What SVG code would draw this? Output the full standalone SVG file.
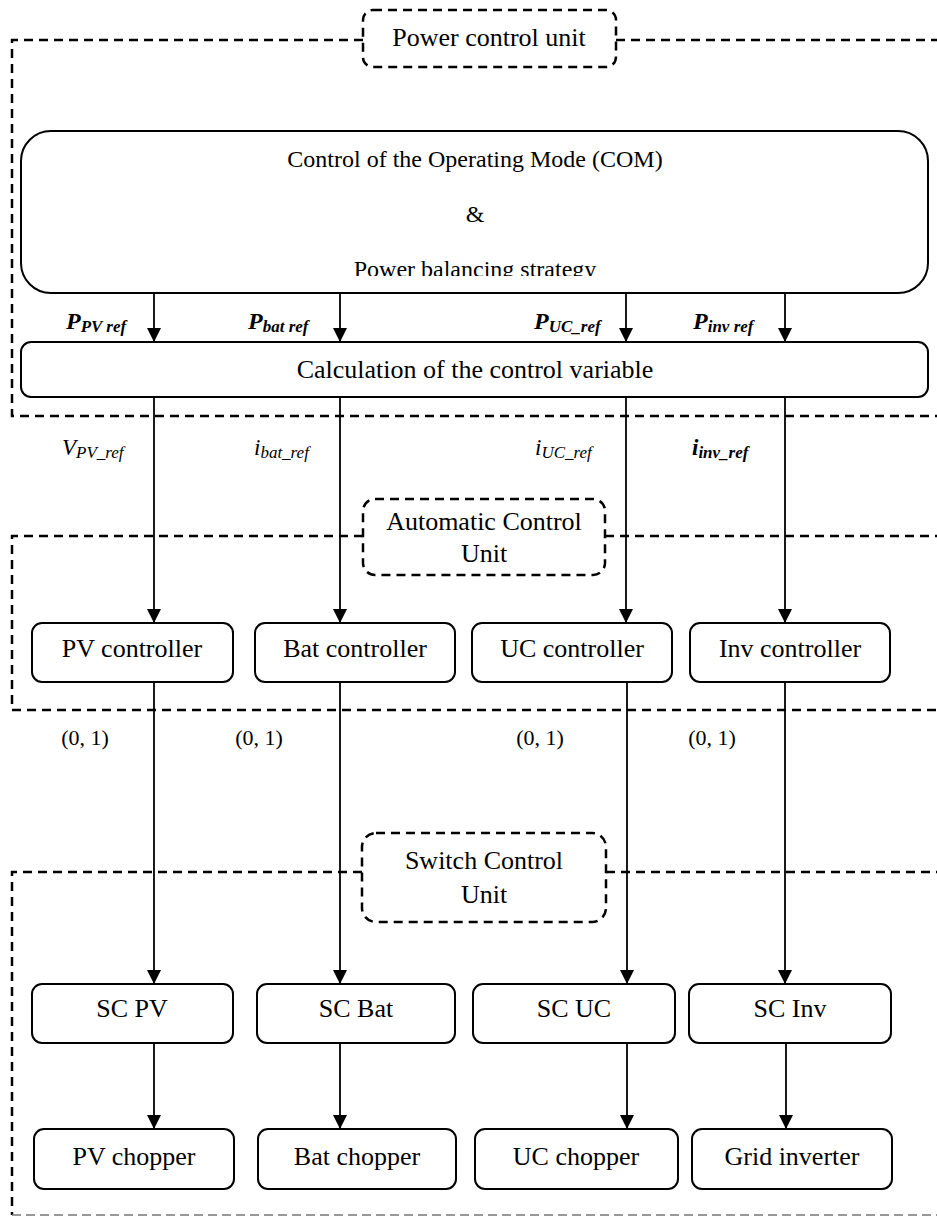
<svg xmlns="http://www.w3.org/2000/svg" width="937" height="1216" viewBox="0 0 937 1216">
<style>
.box{fill:#fff;stroke:#000;stroke-width:2}
.lab{fill:#fff;stroke:#000;stroke-width:2.5;stroke-dasharray:9 6}
.out{fill:none;stroke:#000;stroke-width:2.5;stroke-dasharray:9 6}
.outg{fill:none;stroke:#777;stroke-width:1.6;stroke-dasharray:9 5}
.t{font-family:"Liberation Serif","Times New Roman",serif;font-size:26px;text-anchor:middle;fill:#000}
.tc{font-family:"Liberation Serif","Times New Roman",serif;font-size:24px;text-anchor:middle;fill:#000}
.s{font-family:"Liberation Serif","Times New Roman",serif;font-size:22px;text-anchor:middle;fill:#000}
.m{font-family:"Liberation Serif","Times New Roman",serif;font-style:italic;fill:#000}
.mb{font-family:"Liberation Serif","Times New Roman",serif;font-style:italic;font-weight:bold;fill:#000}
.c{fill:none;stroke:#000;stroke-width:1.8}
</style>
<defs>
<marker id="ah" viewBox="0 0 14 14" refX="14" refY="7" markerWidth="14" markerHeight="14" markerUnits="userSpaceOnUse" orient="auto"><path d="M0,0 L14,7 L0,14 z" fill="#000"/></marker>
<clipPath id="clipCom"><rect x="0" y="0" width="937" height="276"/></clipPath>
</defs>

<g id="power-control-unit">
<path class="out" d="M363,40 H12 V416 H937"/>
<path class="out" d="M616,40 H937"/>
<rect class="lab" x="363" y="10" width="253" height="57" rx="10"/>
<text class="t" x="489" y="46">Power control unit</text>
</g>

<g id="automatic-control-unit">
<path class="out" d="M363,536 H12 V710 H937"/>
<path class="out" d="M605,536 H937"/>
<rect class="lab" x="363" y="499" width="242" height="76" rx="12"/>
<text class="t" x="484" y="530">Automatic Control</text>
<text class="t" x="484" y="562">Unit</text>
</g>

<g id="switch-control-unit">
<path class="out" d="M362,872 H12 V1215"/>
<path class="outg" d="M12,1215 H937"/>
<path class="out" d="M606,872 H937"/>
<rect class="lab" x="362" y="833" width="244" height="89" rx="14"/>
<text class="t" x="484" y="869">Switch Control</text>
<text class="t" x="484" y="903">Unit</text>
</g>

<g id="com">
<rect class="box" x="21" y="131" width="907" height="162" rx="30"/>
<text class="tc" x="475" y="167">Control of the Operating Mode (COM)</text>
<text class="tc" x="475" y="222">&amp;</text>
<text class="tc" x="475" y="277" clip-path="url(#clipCom)">Power balancing strategy</text>
</g>

<g id="calc">
<rect class="box" x="21" y="342" width="907" height="55" rx="10"/>
<text class="t" x="475" y="378">Calculation of the control variable</text>
</g>

<g id="pv-controller"><rect class="box" x="32" y="623" width="201" height="59" rx="10"/><text class="t" x="132" y="657">PV controller</text></g>
<g id="bat-controller"><rect class="box" x="255" y="623" width="200" height="59" rx="10"/><text class="t" x="355" y="657">Bat controller</text></g>
<g id="uc-controller"><rect class="box" x="472" y="623" width="200" height="59" rx="10"/><text class="t" x="572" y="657">UC controller</text></g>
<g id="inv-controller"><rect class="box" x="690" y="623" width="200" height="59" rx="10"/><text class="t" x="790" y="657">Inv controller</text></g>

<g id="sc-pv"><rect class="box" x="32" y="984" width="201" height="59" rx="10"/><text class="t" x="132" y="1017">SC PV</text></g>
<g id="sc-bat"><rect class="box" x="257" y="984" width="198" height="59" rx="10"/><text class="t" x="356" y="1017">SC Bat</text></g>
<g id="sc-uc"><rect class="box" x="473" y="984" width="202" height="59" rx="10"/><text class="t" x="574" y="1017">SC UC</text></g>
<g id="sc-inv"><rect class="box" x="689" y="984" width="202" height="59" rx="10"/><text class="t" x="790" y="1017">SC Inv</text></g>

<g id="pv-chopper"><rect class="box" x="34" y="1129" width="200" height="60" rx="10"/><text class="t" x="134" y="1165">PV chopper</text></g>
<g id="bat-chopper"><rect class="box" x="258" y="1129" width="198" height="60" rx="10"/><text class="t" x="357" y="1165">Bat chopper</text></g>
<g id="uc-chopper"><rect class="box" x="475" y="1129" width="203" height="60" rx="10"/><text class="t" x="576" y="1165">UC chopper</text></g>
<g id="grid-inverter"><rect class="box" x="692" y="1129" width="200" height="60" rx="10"/><text class="t" x="792" y="1165">Grid inverter</text></g>

<g id="connectors">
<line class="c" x1="154" y1="293" x2="154" y2="342" marker-end="url(#ah)"/>
<line class="c" x1="340" y1="293" x2="340" y2="342" marker-end="url(#ah)"/>
<line class="c" x1="626" y1="293" x2="626" y2="342" marker-end="url(#ah)"/>
<line class="c" x1="785" y1="293" x2="785" y2="342" marker-end="url(#ah)"/>
<line class="c" x1="154" y1="397" x2="154" y2="623" marker-end="url(#ah)"/>
<line class="c" x1="340" y1="397" x2="340" y2="623" marker-end="url(#ah)"/>
<line class="c" x1="626" y1="397" x2="626" y2="623" marker-end="url(#ah)"/>
<line class="c" x1="785" y1="397" x2="785" y2="623" marker-end="url(#ah)"/>
<line class="c" x1="154" y1="682" x2="154" y2="984" marker-end="url(#ah)"/>
<line class="c" x1="340" y1="682" x2="340" y2="984" marker-end="url(#ah)"/>
<line class="c" x1="627" y1="682" x2="627" y2="984" marker-end="url(#ah)"/>
<line class="c" x1="785" y1="682" x2="785" y2="984" marker-end="url(#ah)"/>
<line class="c" x1="154" y1="1043" x2="154" y2="1129" marker-end="url(#ah)"/>
<line class="c" x1="340" y1="1043" x2="340" y2="1129" marker-end="url(#ah)"/>
<line class="c" x1="627" y1="1043" x2="627" y2="1129" marker-end="url(#ah)"/>
<line class="c" x1="786" y1="1043" x2="786" y2="1129" marker-end="url(#ah)"/>

<text class="mb" x="66" y="329"><tspan font-size="24">P</tspan><tspan font-size="17" dy="3">PV ref</tspan></text>
<text class="mb" x="248" y="329"><tspan font-size="24">P</tspan><tspan font-size="17" dy="3">bat ref</tspan></text>
<text class="mb" x="534" y="329"><tspan font-size="24">P</tspan><tspan font-size="17" dy="3">UC_ref</tspan></text>
<text class="mb" x="693" y="329"><tspan font-size="24">P</tspan><tspan font-size="17" dy="3">inv ref</tspan></text>

<text class="m" x="62" y="455"><tspan font-size="23">V</tspan><tspan font-size="17" dy="3">PV_ref</tspan></text>
<text class="m" x="254" y="455"><tspan font-size="23">i</tspan><tspan font-size="17" dy="3">bat_ref</tspan></text>
<text class="m" x="535" y="455"><tspan font-size="23">i</tspan><tspan font-size="17" dy="3">UC_ref</tspan></text>
<text class="mb" x="692" y="455"><tspan font-size="23">i</tspan><tspan font-size="17" dy="3">inv_ref</tspan></text>

<text class="s" x="85" y="745">(0, 1)</text>
<text class="s" x="259" y="745">(0, 1)</text>
<text class="s" x="540" y="745">(0, 1)</text>
<text class="s" x="712" y="745">(0, 1)</text>
</g>
</svg>
